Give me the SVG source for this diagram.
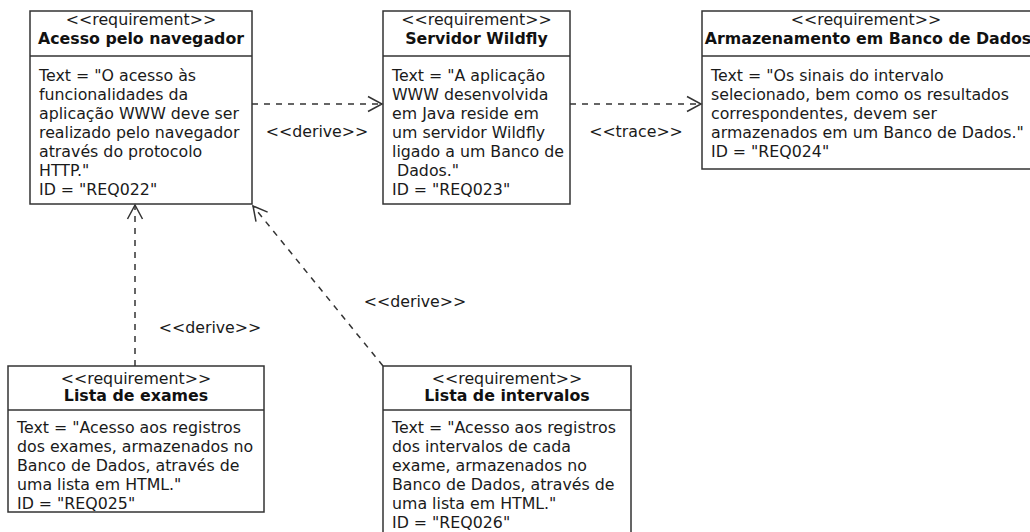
<svg xmlns="http://www.w3.org/2000/svg" width="1030" height="532" viewBox="0 0 1030 532">
  <defs>
    <style>
      .box { fill: #ffffff; stroke: #333333; stroke-width: 1.5; }
      .div { stroke: #333333; stroke-width: 1.5; }
      .st { font-family: "DejaVu Sans", sans-serif; font-size: 15.8px; fill: #1a1a1a; text-anchor: middle; }
      .nm { font-family: "DejaVu Sans", sans-serif; font-size: 15.8px; font-weight: bold; fill: #111111; text-anchor: middle; }
      .tx { font-family: "DejaVu Sans", sans-serif; font-size: 15.8px; fill: #1a1a1a; }
      .lb { font-family: "DejaVu Sans", sans-serif; font-size: 15.8px; fill: #1a1a1a; text-anchor: middle; }
      .dep { fill: none; stroke: #333333; stroke-width: 1.5; stroke-dasharray: 6 6; }
    </style>
    <marker id="open" markerWidth="18" markerHeight="18" refX="15" refY="9" orient="auto" markerUnits="userSpaceOnUse">
      <polyline points="1,1.5 15,9 1,16.5" fill="none" stroke="#333333" stroke-width="1.5"/>
    </marker>
  </defs>
  <rect width="1030" height="532" fill="#ffffff"/>

  <!-- requirement REQ022 -->
  <g id="req022">
    <rect class="box" x="30" y="11" width="222" height="193"/>
    <line class="div" x1="30" y1="56" x2="252" y2="56"/>
    <text class="st" x="141" y="25">&lt;&lt;requirement&gt;&gt;</text>
    <text class="nm" x="141" y="44">Acesso pelo navegador</text>
    <text class="tx" x="39" y="81">Text = "O acesso às</text>
    <text class="tx" x="39" y="100">funcionalidades da</text>
    <text class="tx" x="39" y="119">aplicação WWW deve ser</text>
    <text class="tx" x="39" y="138">realizado pelo navegador</text>
    <text class="tx" x="39" y="157">através do protocolo</text>
    <text class="tx" x="39" y="176">HTTP."</text>
    <text class="tx" x="39" y="195">ID = "REQ022"</text>
  </g>

  <!-- requirement REQ023 -->
  <g id="req023">
    <rect class="box" x="383" y="11" width="187" height="193"/>
    <line class="div" x1="383" y1="56" x2="570" y2="56"/>
    <text class="st" x="476.5" y="25">&lt;&lt;requirement&gt;&gt;</text>
    <text class="nm" x="476.5" y="44">Servidor Wildfly</text>
    <text class="tx" x="392" y="81">Text = "A aplicação</text>
    <text class="tx" x="392" y="100">WWW desenvolvida</text>
    <text class="tx" x="392" y="119">em Java reside em</text>
    <text class="tx" x="392" y="138">um servidor Wildfly</text>
    <text class="tx" x="392" y="157">ligado a um Banco de</text>
    <text class="tx" x="392" y="176" xml:space="preserve"> Dados."</text>
    <text class="tx" x="392" y="195">ID = "REQ023"</text>
  </g>

  <!-- requirement REQ024 -->
  <g id="req024">
    <rect class="box" x="702" y="11" width="340" height="158"/>
    <line class="div" x1="702" y1="56" x2="1042" y2="56"/>
    <text class="st" x="866" y="25">&lt;&lt;requirement&gt;&gt;</text>
    <text class="nm" x="868" y="44">Armazenamento em Banco de Dados</text>
    <text class="tx" x="711" y="81">Text = "Os sinais do intervalo</text>
    <text class="tx" x="711" y="100">selecionado, bem como os resultados</text>
    <text class="tx" x="711" y="119">correspondentes, devem ser</text>
    <text class="tx" x="711" y="138">armazenados em um Banco de Dados."</text>
    <text class="tx" x="711" y="157">ID = "REQ024"</text>
  </g>

  <!-- requirement REQ025 -->
  <g id="req025">
    <rect class="box" x="8" y="366" width="256" height="146"/>
    <line class="div" x1="8" y1="410" x2="264" y2="410"/>
    <text class="st" x="136" y="384">&lt;&lt;requirement&gt;&gt;</text>
    <text class="nm" x="136" y="401">Lista de exames</text>
    <text class="tx" x="17" y="433">Text = "Acesso aos registros</text>
    <text class="tx" x="17" y="452">dos exames, armazenados no</text>
    <text class="tx" x="17" y="471">Banco de Dados, através de</text>
    <text class="tx" x="17" y="490">uma lista em HTML."</text>
    <text class="tx" x="17" y="509">ID = "REQ025"</text>
  </g>

  <!-- requirement REQ026 -->
  <g id="req026">
    <rect class="box" x="383" y="366" width="248" height="180"/>
    <line class="div" x1="383" y1="410" x2="631" y2="410"/>
    <text class="st" x="507" y="384">&lt;&lt;requirement&gt;&gt;</text>
    <text class="nm" x="507" y="401">Lista de intervalos</text>
    <text class="tx" x="392" y="433">Text = "Acesso aos registros</text>
    <text class="tx" x="392" y="452">dos intervalos de cada</text>
    <text class="tx" x="392" y="471">exame, armazenados no</text>
    <text class="tx" x="392" y="490">Banco de Dados, através de</text>
    <text class="tx" x="392" y="509">uma lista em HTML."</text>
    <text class="tx" x="392" y="528">ID = "REQ026"</text>
  </g>

  <!-- dependencies -->
  <g id="connectors">
    <line class="dep" x1="252" y1="104" x2="382" y2="104" marker-end="url(#open)"/>
    <text class="lb" x="317" y="137">&lt;&lt;derive&gt;&gt;</text>
    <line class="dep" x1="570" y1="104" x2="701" y2="104" marker-end="url(#open)"/>
    <text class="lb" x="636" y="137">&lt;&lt;trace&gt;&gt;</text>
    <line class="dep" x1="135" y1="366" x2="135" y2="205" marker-end="url(#open)"/>
    <text class="lb" x="210" y="333">&lt;&lt;derive&gt;&gt;</text>
    <line class="dep" x1="383" y1="366" x2="253" y2="206" marker-end="url(#open)"/>
    <text class="lb" x="415" y="307">&lt;&lt;derive&gt;&gt;</text>
  </g>
</svg>
